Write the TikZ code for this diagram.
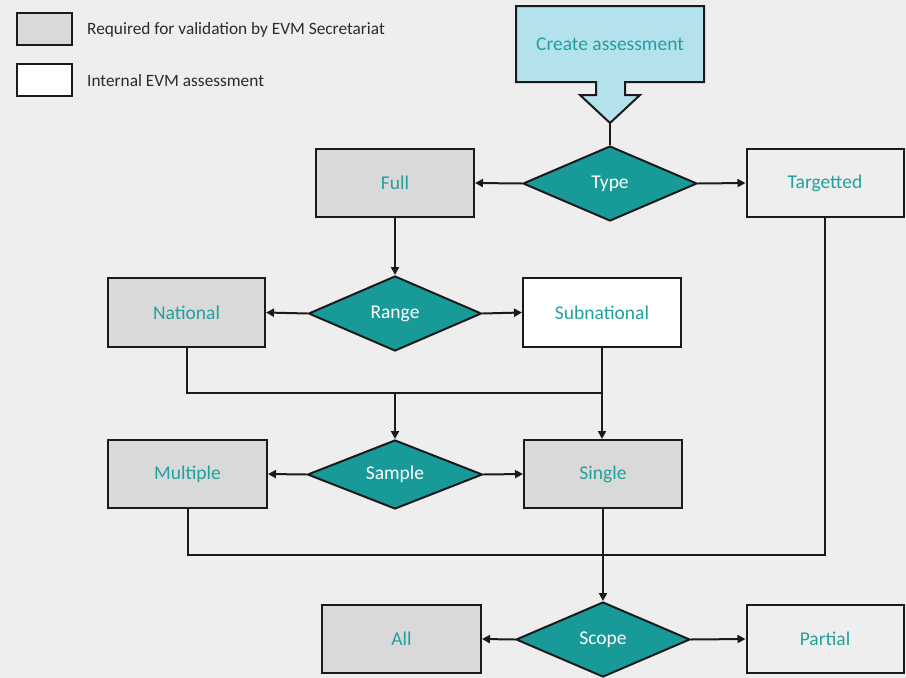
\documentclass[tikz,border=0pt]{standalone}
\usepackage{fontspec}
\setmainfont{Carlito}
\usetikzlibrary{shapes.geometric,arrows.meta}
\definecolor{bgc}{HTML}{EEEEEE}
\definecolor{grayfill}{HTML}{D9D9D9}
\definecolor{tealc}{HTML}{189A99}
\definecolor{tealtext}{HTML}{22A09E}
\definecolor{lightblue}{HTML}{B4E2EC}
\definecolor{edgec}{HTML}{1A1A1A}
\definecolor{legtext}{HTML}{2B2B2B}
\tikzset{
  box/.style={draw=edgec, line width=2pt, rectangle, minimum width=158pt, minimum height=68pt, inner sep=0pt, text=tealtext, font=\fontsize{19.5}{22}\selectfont},
  graybox/.style={box, fill=grayfill},
  whitebox/.style={box, fill=white},
  clearbox/.style={box, fill=bgc},
  decision/.style={draw=edgec, line width=2pt, diamond, aspect=2.3, inner sep=0pt, minimum width=174pt, minimum height=75pt, fill=tealc, text=white, font=\fontsize{19.5}{22}\selectfont},
  conn/.style={draw=edgec, line width=2pt},
  arr/.style={conn, -{Triangle[length=8pt,width=8pt]}},
  legtxt/.style={anchor=west, text=legtext, inner sep=0pt, font=\fontsize{17.3}{20}\selectfont},
  legbox/.style={draw=edgec, line width=2pt, rectangle, minimum width=55pt, minimum height=32pt, inner sep=0pt}
}
\begin{document}
\begin{tikzpicture}[x=1pt,y=-1pt]
\fill[bgc] (0,0) rectangle (906,678);
\useasboundingbox (0,0) rectangle (906,678);
% legend
\node[legbox, fill=grayfill] (leg1) at (44.5,29) {};
\node[legbox, fill=white] (leg2) at (44.5,79.5) {};
\node[legtxt] (legt1) at (87,30) {Required for validation by EVM Secretariat};
\node[legtxt] (legt2) at (87,81) {Internal EVM assessment};
% create assessment with down-arrow callout
\draw[draw=edgec, line width=2pt, fill=lightblue, line join=miter]
  (516,6) -- (704,6) -- (704,82) -- (625,82) -- (625,95) -- (640,95) -- (610,123)
  -- (580,95) -- (596,95) -- (596,82) -- (516,82) -- cycle;
\node[text=tealtext, font=\fontsize{19.5}{22}\selectfont] (create) at (610,44) {Create assessment};
\coordinate (ctip) at (610,123);
% nodes
\node[decision] (type) at (610,183.5) {Type};
\node[graybox] (full) at (395,183) {Full};
\node[clearbox, minimum width=157pt] (targ) at (825,183) {Targetted};
\node[decision, minimum width=173pt] (range) at (395,313.5) {Range};
\node[graybox, minimum width=157pt, minimum height=69pt] (national) at (186.5,312.5) {National};
\node[whitebox, minimum height=69pt] (subnat) at (602,312.5) {Subnational};
\node[decision, minimum width=175pt, minimum height=69pt] (sample) at (395,474.5) {Sample};
\node[graybox, minimum width=159pt] (multiple) at (187.5,474) {Multiple};
\node[graybox] (single) at (603,474) {Single};
\node[decision] (scope) at (603,639.5) {Scope};
\node[graybox, minimum width=159pt] (all) at (401.5,639) {All};
\node[clearbox, minimum width=157pt] (partial) at (825,639) {Partial};
\coordinate (j1) at (395,393);
\coordinate (j2) at (603,555);
% connectors
\draw[conn] (ctip) -- (type.north);
\draw[arr] (type.west) -- (full.east);
\draw[arr] (type.east) -- (targ.west);
\draw[arr] (full.south) -- (range.north);
\draw[arr] (range.west) -- (national.east);
\draw[arr] (range.east) -- (subnat.west);
\draw[conn] (national.south) |- (single.north |- j1);
\draw[arr] (subnat.south) -- (subnat.south |- single.north);
\draw[arr] (j1) -- (sample.north);
\draw[arr] (sample.west) -- (multiple.east);
\draw[arr] (sample.east) -- (single.west);
\draw[conn] (multiple.south) |- (j2) -| (targ.south);
\draw[arr] (single.south) -- (scope.north);
\draw[arr] (scope.west) -- (all.east);
\draw[arr] (scope.east) -- (partial.west);
\end{tikzpicture}
\end{document}
